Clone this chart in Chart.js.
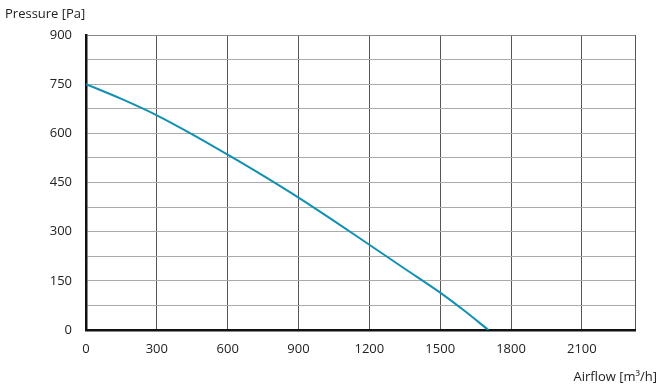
<!DOCTYPE html>
<html>
<head>
<meta charset="utf-8">
<script src="https://cdn.jsdelivr.net/npm/chart.js@4/dist/chart.umd.min.js"></script>
<style>
html,body{margin:0;padding:0;background:#fff;}
#wrap{width:663px;height:390px;position:relative;}
</style>
</head>
<body>
<div id="wrap"><canvas id="c" width="663" height="390"></canvas></div>
<script>
const airflow = [0, 150, 300, 450, 600, 750, 900, 1050, 1200, 1350, 1500, 1600, 1704];
const pressure = [750, 705, 655, 597, 535, 471, 404, 333, 260, 187, 114, 60, 0];
const xTickLabels = [0, 300, 600, 900, 1200, 1500, 1800, 2100];
const yTickLabels = [0, 150, 300, 450, 600, 750, 900];
const xTitle = 'Airflow [m³/h]';
const yTitle = 'Pressure [Pa]';

const FONT = '"Open Sans", "DejaVu Sans", sans-serif';

const titles = {
  id: 'titles',
  afterDraw(chart) {
    const ctx = chart.ctx;
    ctx.save();
    ctx.fillStyle = '#222';
    ctx.font = '13px ' + FONT;
    ctx.textBaseline = 'alphabetic';
    ctx.textAlign = 'left';
    ctx.fillText(yTitle, 5, 18);
    ctx.textAlign = 'right';
    ctx.fillText(xTitle, 657, 381);
    ctx.restore();
  }
};

new Chart(document.getElementById('c'), {
  type: 'line',
  data: {
    datasets: [{
      data: airflow.map((x, i) => ({x: x, y: pressure[i]})),
      borderColor: '#1190b2',
      borderWidth: 2,
      pointRadius: 0,
      tension: 0.4,
      cubicInterpolationMode: 'monotone',
      fill: false
    }]
  },
  options: {
    responsive: false,
    animation: false,
    devicePixelRatio: 1,
    layout: {padding: {top: 35, right: 28, left: 0, bottom: 0}},
    plugins: {legend: {display: false}, tooltip: {enabled: false}},
    scales: {
      x: {
        type: 'linear',
        min: 0,
        max: 2325,
        afterBuildTicks(scale) {
          const t = xTickLabels.map(v => ({value: v}));
          t.push({value: 2325});
          scale.ticks = t;
        },
        afterFit(scale) { scale.height = 60; },
        ticks: {
          padding: 11,
          maxRotation: 0,
          autoSkip: false,
          color: '#222',
          font: {family: FONT, size: 13},
          callback: (v) => xTickLabels.includes(v) ? String(v) : ''
        },
        grid: {color: '#555', lineWidth: 1, drawTicks: false},
        border: {color: '#111', width: 2.5}
      },
      y: {
        type: 'linear',
        min: 0,
        max: 900,
        afterBuildTicks(scale) {
          const t = [];
          for (let v = 0; v <= 900; v += 75) t.push({value: v});
          scale.ticks = t;
        },
        afterFit(scale) { scale.width = 86; },
        ticks: {
          padding: 14,
          autoSkip: false,
          color: '#222',
          font: {family: FONT, size: 13},
          callback: (v) => yTickLabels.includes(v) ? String(v) : ''
        },
        grid: {color: (c) => c.tick && c.tick.value === 900 ? '#888' : '#aaa', lineWidth: 1, drawTicks: false},
        border: {color: '#111', width: 2.5}
      }
    }
  },
  plugins: [titles]
});
</script>
</body>
</html>
